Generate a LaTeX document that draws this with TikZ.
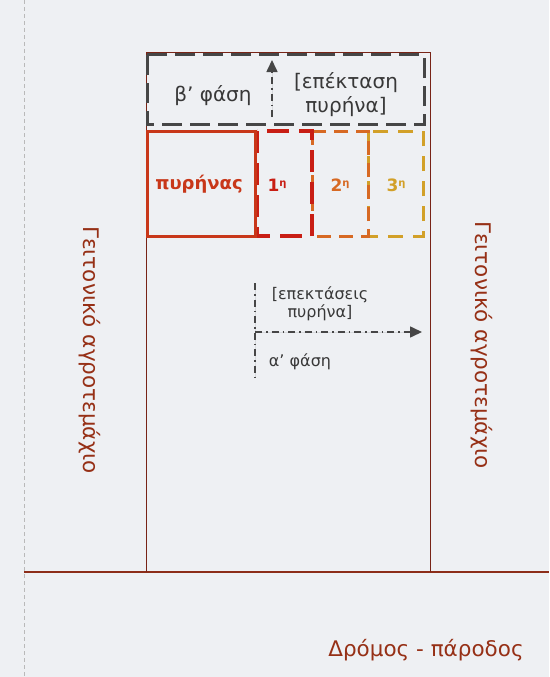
\documentclass[tikz,border=0pt]{standalone}
\usepackage{fontspec}
\setmainfont{DejaVu Sans}
\usetikzlibrary{arrows.meta}

\definecolor{brn}{RGB}{120,36,22}
\definecolor{roadc}{RGB}{140,45,25}
\definecolor{txtbrn}{RGB}{150,48,22}
\definecolor{corec}{RGB}{200,55,25}
\definecolor{ph1c}{RGB}{200,30,20}
\definecolor{ph2c}{RGB}{215,105,35}
\definecolor{ph3c}{RGB}{210,160,40}
\definecolor{dgray}{RGB}{70,70,70}
\definecolor{paper}{RGB}{238,240,243}

\newcommand\ordsup[1]{\raisebox{0.55ex}{\fontsize{10}{10}\selectfont #1}}

\begin{document}
\begin{tikzpicture}[x=1pt, y=-1pt, >={Triangle[length=12pt, width=11pt]},
  lim/.style={draw=brn, line width=1pt},
  roadln/.style={draw=roadc, line width=2.6pt},
  boxB/.style={draw=dgray, line width=3pt, dash pattern=on 20pt off 8pt},
  corebox/.style={draw=corec, line width=3pt},
  box1/.style={draw=ph1c, line width=3.2pt, dash pattern=on 22pt off 10pt},
  box2/.style={draw=ph2c, line width=3pt, dash pattern=on 14pt off 8pt},
  box3/.style={draw=ph3c, line width=3pt, dash pattern=on 15pt off 10pt},
  dda/.style={draw=dgray, fill=dgray, line width=1.6pt,
              dash pattern=on 7pt off 4pt on 1.5pt off 4pt},
  lbl/.style={font=\fontsize{20}{24}\selectfont, text=dgray!80!black,
              align=center, inner sep=1pt},
  lblA/.style={lbl, font=\fontsize{16}{18}\selectfont},
  side/.style={font=\fontsize{21.5}{24}\selectfont, text=txtbrn, inner sep=1pt}]
\fill[paper] (0,0) rectangle (549,677);
\useasboundingbox (0,0) rectangle (549,677);
% boundary, road
\draw[gray!55, line width=0.8pt, dash pattern=on 4pt off 3pt] (24,0) -- (24,677);
\draw[roadln] (24,572) -- (549,572);
\draw[lim] (146,572) -- (146,53) -- (430,53) -- (430,572);
% phase b
\draw[boxB] (147,55) rectangle (424,124);
\coordinate (bup0) at (272,117);
\coordinate (bup1) at (272,60);
\draw[dda, ->] (bup0) -- (bup1);
\node[lbl] (phB) at (213,96) {β' φάση};
\node[lbl] (extB) at (346,95) {[επέκταση\\πυρήνα]};
% core and phase a boxes
\draw[box3] (368,131) rectangle (423,236);
\draw[box2] (312,131) rectangle (368,236);
\draw[box1] (257,131) rectangle (312,236);
\draw[corebox] (147,131) rectangle (255,236);
\node[font=\bfseries\fontsize{18}{21}\selectfont, text=corec] (core) at (199,184) {πυρήνας};
\node[font=\bfseries\fontsize{17}{21}\selectfont, text=ph1c] (p1) at (277,185) {1\ordsup{η}};
\node[font=\bfseries\fontsize{17}{21}\selectfont, text=ph2c] (p2) at (340,185) {2\ordsup{η}};
\node[font=\bfseries\fontsize{17}{21}\selectfont, text=ph3c] (p3) at (396,185) {3\ordsup{η}};
% phase a
\coordinate (aup) at (255,283);
\coordinate (adn) at (255,378);
\coordinate (acr) at (255,332);
\coordinate (aend) at (422,332);
\draw[dda, line width=1.2pt] (aup) -- (adn);
\draw[dda, ->] (acr) -- (aend);
\node[lblA] (extA) at (320,304) {[επεκτάσεις\\πυρήνα]};
\node[lblA] (phA) at (300,362) {α' φάση};
% neighbours, road label
\node[side, rotate=-90] (ngL) at (90,350) {Γειτονικό αγροτεμάχιο};
\node[side, rotate=-90] (ngR) at (482,345) {Γειτονικό αγροτεμάχιο};
\node[side] (road) at (426,650) {Δρόμος - πάροδος};
\end{tikzpicture}
\end{document}
